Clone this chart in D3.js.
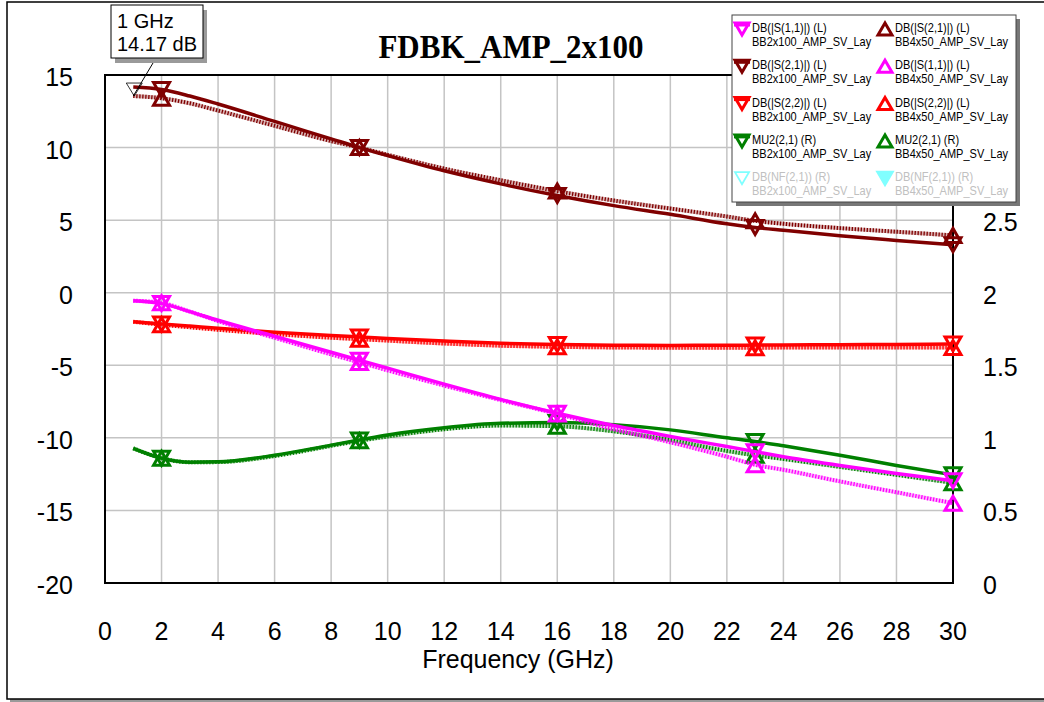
<!DOCTYPE html>
<html>
<head>
<meta charset="utf-8">
<script src="https://cdn.jsdelivr.net/npm/d3@7"></script>
<style>
  body { margin: 0; background: #fff; }
  text { font-family: "Liberation Sans", Arial, sans-serif; }
</style>
</head>
<body>
<div id="chart"></div>
<script>
// frequency points (GHz)
var freq = [1, 2, 3, 4, 6, 8, 9, 10, 12, 14, 16, 18, 20, 22, 23, 24, 26, 28, 30];
var markerFreq = [2, 9, 16, 23, 30];

// left axis, dB
var s11_2x100 = [-0.55, -0.75, -1.3, -1.9, -3.0, -4.1, -4.65, -5.2, -6.3, -7.35, -8.3, -9.15, -9.9, -10.6, -10.95, -11.3, -11.9, -12.45, -12.95];
var s11_4x50  = [-0.55, -0.7, -1.3, -1.95, -3.1, -4.25, -4.8, -5.35, -6.4, -7.4, -8.35, -9.4, -10.3, -11.3, -11.85, -12.2, -13.0, -13.75, -14.5];
var s21_2x100 = [14.17, 14.0, 13.55, 13.0, 11.8, 10.6, 10.0, 9.45, 8.4, 7.5, 6.7, 6.0, 5.4, 4.75, 4.5, 4.3, 3.92, 3.6, 3.3];
var s21_4x50  = [13.55, 13.4, 13.05, 12.55, 11.5, 10.45, 10.0, 9.5, 8.55, 7.75, 7.0, 6.35, 5.8, 5.25, 4.95, 4.75, 4.45, 4.2, 3.95];
var s22_2x100 = [-2.0, -2.15, -2.3, -2.45, -2.72, -2.95, -3.05, -3.15, -3.33, -3.48, -3.57, -3.62, -3.63, -3.62, -3.61, -3.6, -3.58, -3.56, -3.53];
var s22_4x50  = [-2.0, -2.2, -2.38, -2.55, -2.85, -3.1, -3.2, -3.3, -3.5, -3.65, -3.73, -3.77, -3.79, -3.79, -3.79, -3.78, -3.78, -3.77, -3.77];
// right axis
var mu2_2x100 = [0.928, 0.86, 0.832, 0.835, 0.88, 0.95, 0.985, 1.02, 1.07, 1.1, 1.105, 1.09, 1.055, 1.0, 0.975, 0.945, 0.88, 0.81, 0.745];
var mu2_4x50  = [0.928, 0.86, 0.832, 0.833, 0.875, 0.945, 0.98, 1.01, 1.06, 1.085, 1.08, 1.045, 0.985, 0.91, 0.88, 0.855, 0.8, 0.745, 0.69];

var xTicks = d3.range(0, 31, 2);
var leftTicks = [-20, -15, -10, -5, 0, 5, 10, 15];
var rightTicks = [0, 0.5, 1, 1.5, 2, 2.5];   // 3 and 3.5 sit behind the legend

var legendNames = ["DB(|S(1,1)|) (L)", "DB(|S(2,1)|) (L)", "DB(|S(2,2)|) (L)", "MU2(2,1) (R)", "DB(NF(2,1)) (R)"];
var legendColors = ["#ff00ff", "#800000", "#ff0000", "#008000", "#80ffff"];
var legendCol2Order = [1, 0, 2, 3, 4];

var width = 1044, height = 702;
var plotL = 105, plotR = 953, plotT = 75, plotB = 583;

var svg = d3.select("#chart").append("svg")
  .attr("width", width)
  .attr("height", height);

// outer frame with shadow
svg.append("rect").attr("x", 10).attr("y", 5).attr("width", 1040).attr("height", 697).attr("fill", "#9a9a9a");
svg.append("rect").attr("x", 7).attr("y", 2).attr("width", 1040).attr("height", 697)
  .attr("fill", "#fff").attr("stroke", "#000").attr("stroke-width", 1.5);

var x = d3.scaleLinear().domain([0, 30]).range([plotL, plotR]);
var yL = d3.scaleLinear().domain([-20, 15]).range([plotB, plotT]);
var yR = d3.scaleLinear().domain([0, 3.5]).range([plotB, plotT]);

// grid
svg.append("g").selectAll("line").data(xTicks.slice(1, -1)).enter().append("line")
  .attr("x1", d => x(d)).attr("x2", d => x(d))
  .attr("y1", plotT).attr("y2", plotB)
  .attr("stroke", "#c4c4c4").attr("stroke-width", 1.5);
svg.append("g").selectAll("line").data(leftTicks.slice(1, -1)).enter().append("line")
  .attr("x1", plotL).attr("x2", plotR)
  .attr("y1", d => yL(d)).attr("y2", d => yL(d))
  .attr("stroke", "#c4c4c4").attr("stroke-width", 1.5);

svg.append("rect")
  .attr("x", plotL).attr("y", plotT)
  .attr("width", plotR - plotL).attr("height", plotB - plotT)
  .attr("fill", "none").attr("stroke", "#000").attr("stroke-width", 2);

// tick labels
svg.append("g").selectAll("text").data(xTicks).enter().append("text")
  .attr("x", d => x(d)).attr("y", 640)
  .attr("text-anchor", "middle").style("font-size", "25px")
  .text(d => d);
svg.append("g").selectAll("text").data(leftTicks).enter().append("text")
  .attr("x", 73).attr("y", d => yL(d) + 11)
  .attr("text-anchor", "end").style("font-size", "25px")
  .text(d => d);
svg.append("g").selectAll("text").data(rightTicks).enter().append("text")
  .attr("x", 983).attr("y", d => yR(d) + 11)
  .attr("text-anchor", "start").style("font-size", "25px")
  .text(d => d);

svg.append("text")
  .attr("x", 518).attr("y", 668)
  .attr("text-anchor", "middle").style("font-size", "25px")
  .text("Frequency (GHz)");

svg.append("text")
  .attr("transform", "translate(511,58) scale(1,1.12)")
  .attr("text-anchor", "middle")
  .style("font-family", "'Liberation Serif', 'Times New Roman', serif")
  .style("font-weight", "bold").style("font-size", "31px")
  .text("FDBK_AMP_2x100");

// series
var series = [
  { v: s22_4x50, c: "#ff0000", y: yL, dot: true },
  { v: s22_2x100, c: "#ff0000", y: yL, dot: false },
  { v: mu2_4x50, c: "#008000", y: yR, dot: true },
  { v: mu2_2x100, c: "#008000", y: yR, dot: false },
  { v: s11_4x50, c: "#ff00ff", y: yL, dot: true },
  { v: s11_2x100, c: "#ff00ff", y: yL, dot: false },
  { v: s21_4x50, c: "#800000", y: yL, dot: true },
  { v: s21_2x100, c: "#800000", y: yL, dot: false }
];

function triangle(cx, cy, down, w, h) {
  w = w || 8; h = h || 7;
  if (down) return "M" + (cx - w) + "," + (cy - h) + "L" + (cx + w) + "," + (cy - h) + "L" + cx + "," + (cy + h) + "Z";
  return "M" + (cx - w) + "," + (cy + h) + "L" + (cx + w) + "," + (cy + h) + "L" + cx + "," + (cy - h) + "Z";
}

series.forEach(function (s) {
  var line = d3.line()
    .x((d, i) => x(freq[i]))
    .y(d => s.y(d))
    .curve(d3.curveMonotoneX);
  if (s.dot) {
    svg.append("path").attr("d", line(s.v)).attr("fill", "none")
      .attr("stroke", s.c).attr("stroke-opacity", 0.3).attr("stroke-width", 4);
    svg.append("path").attr("d", line(s.v)).attr("fill", "none")
      .attr("stroke", s.c).attr("stroke-width", 4).attr("stroke-dasharray", "1.3 1.7");
  } else {
    svg.append("path").attr("d", line(s.v)).attr("fill", "none")
      .attr("stroke", s.c).attr("stroke-width", 3.5);
  }
  svg.append("g").selectAll("path").data(markerFreq).enter().append("path")
    .attr("d", function (f) {
      var i = freq.indexOf(f);
      return triangle(x(f), s.y(s.v[i]), !s.dot);
    })
    .attr("fill", "none").attr("stroke", s.c).attr("stroke-width", 3);
});

// marker readout at 1 GHz
var mx = x(freq[0]), my = yL(s21_2x100[0]);
svg.append("path")
  .attr("d", "M" + (mx - 7) + "," + (my - 4) + "L" + (mx + 9) + "," + (my - 4) + "L" + (mx + 1) + "," + (my + 9) + "Z")
  .attr("fill", "none").attr("stroke", "#000").attr("stroke-width", 0.8);
svg.append("line").attr("x1", 153).attr("y1", 63).attr("x2", mx).attr("y2", my + 9)
  .attr("stroke", "#000").attr("stroke-width", 1);
svg.append("rect").attr("x", 115).attr("y", 10).attr("width", 92).attr("height", 53).attr("fill", "#9a9a9a");
svg.append("rect").attr("x", 111).attr("y", 5).attr("width", 92).attr("height", 53)
  .attr("fill", "#fff").attr("stroke", "#000").attr("stroke-width", 1);
svg.append("text").attr("x", 117).attr("y", 28).style("font-size", "20px").text(freq[0] + " GHz");
svg.append("text").attr("x", 117).attr("y", 51).style("font-size", "20px").text(s21_2x100[0] + " dB");

// legend
var lg = svg.append("g");
lg.append("rect").attr("x", 736).attr("y", 19).attr("width", 284).attr("height", 187).attr("fill", "#777");
lg.append("rect").attr("x", 732).attr("y", 15).attr("width", 284).attr("height", 187)
  .attr("fill", "#fff").attr("stroke", "#444").attr("stroke-width", 1);

function legendItem(col, row, k) {
  var gx = col === 0 ? 742 : 885;
  var gy = 29 + row * 37.3;
  var c = legendColors[k];
  var nf = k === 4;
  var down = col === 0 || nf;
  var mk = lg.append("g");
  mk.append("path").attr("d", triangle(gx, gy, down, 7, 6))
    .attr("fill", nf && col === 1 ? c : "none")
    .attr("stroke", c).attr("stroke-width", nf && col === 0 ? 1.8 : 3);
  if (down && !nf) {
    mk.append("line").attr("x1", gx - 8).attr("x2", gx + 8).attr("y1", gy - 4).attr("y2", gy - 4)
      .attr("stroke", c).attr("stroke-width", 3);
  }
  var tc = nf ? "#c0c0c0" : "#000";
  lg.append("text").attr("transform", "translate(" + (gx + 10) + "," + (gy + 3) + ") scale(0.88,1)")
    .style("font-size", "12.5px").attr("fill", tc)
    .text(legendNames[k]);
  lg.append("text").attr("transform", "translate(" + (gx + 10) + "," + (gy + 17) + ") scale(0.88,1)")
    .style("font-size", "12.5px").attr("fill", tc)
    .text(col === 0 ? "BB2x100_AMP_SV_Lay" : "BB4x50_AMP_SV_Lay");
}

for (var r = 0; r < 5; r++) {
  legendItem(0, r, r);
  legendItem(1, r, legendCol2Order[r]);
}
</script>
</body>
</html>
